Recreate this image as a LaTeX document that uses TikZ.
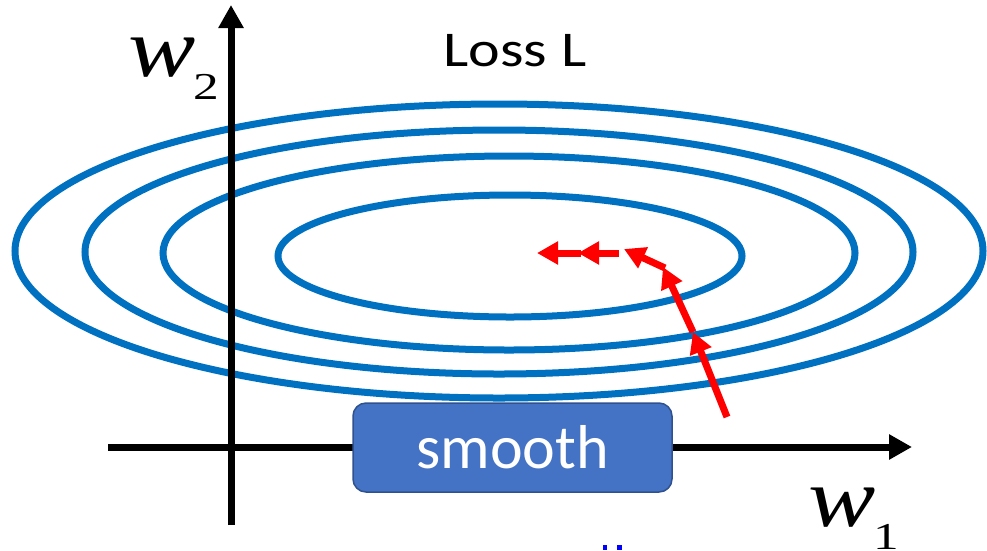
\documentclass[tikz,border=0pt]{standalone}
\usepackage{fontspec}
\setmainfont{Carlito}
\newfontfamily\wfont{Liberation Serif}[ItalicFont={Liberation Serif Italic}]
\usetikzlibrary{arrows.meta}
\definecolor{contourblue}{HTML}{0070C0}
\definecolor{boxblue}{HTML}{4472C4}
\definecolor{boxedge}{HTML}{2F528F}
\definecolor{gdred}{HTML}{FF0000}
\definecolor{dotblue}{HTML}{0000FF}
\newcommand{\axisvar}[1]{{\fontsize{84}{84}\wfont\itshape\scalebox{1.2}[1]{w}}\hspace{-2pt}\raisebox{-23pt}{\fontsize{38}{38}\wfont\upshape\scalebox{1.35}[1]{#1}}}
\begin{document}
\begin{tikzpicture}[x=1pt,y=-1pt,
  contour/.style={draw=contourblue, line width=7pt},
  axisline/.style={draw=black, line width=7pt, -{Triangle[length=23pt,width=24pt]}},
  gdstep/.style={draw=gdred, line width=7pt, -{Triangle[length=21pt,width=22pt]}},
  smoothbox/.style={draw=boxedge, line width=1.5pt, fill=boxblue, rounded corners=13pt,
    minimum width=319pt, minimum height=89pt, inner sep=0pt, text=white,
    font=\fontsize{62}{62}\selectfont},
  losslabel/.style={font=\fontsize{50}{50}\selectfont, inner sep=0pt},
  axislabel/.style={anchor=base west, inner sep=0pt}
  ]
\useasboundingbox (0,0) rectangle (987,550);
% contours
\draw[contour] (499,251) ellipse [x radius=484, y radius=147];
\draw[contour] (499,252) ellipse [x radius=414, y radius=122];
\draw[contour] (509,253) ellipse [x radius=346, y radius=97];
\draw[contour] (510,256) ellipse [x radius=232, y radius=61];
% axes
\coordinate (yb) at (231,525);
\coordinate (yt) at (231,5);
\coordinate (xl) at (108,447);
\coordinate (xr) at (912,447);
\draw[axisline] (yb) -- (yt);
\draw[axisline] (xl) -- (xr);
% labels
\node[losslabel] (loss) at (515,51) {\scalebox{1.2}[1]{Loss L}};
\node[axislabel] (w2) at (128,76) {\axisvar{2}};
\node[axislabel] (w1) at (808,526) {\axisvar{1}};
% smooth box
\node[smoothbox] (smooth) at (512.5,447.5) {smooth};
% gradient steps
\coordinate (p0) at (727,417);
\coordinate (p1) at (693,332);
\coordinate (p2) at (663,267);
\coordinate (p3a) at (665,268);
\coordinate (p3) at (624,249);
\coordinate (p4a) at (619,253);
\coordinate (p4) at (578,253);
\coordinate (p5a) at (581,253);
\coordinate (p5) at (537,253);
\draw[gdstep] (p0) -- (p1);
\draw[gdstep] (p1) -- (p2);
\draw[gdstep] (p3a) -- (p3);
\draw[gdstep] (p4a) -- (p4);
\draw[gdstep] (p5a) -- (p5);
% partial marks at bottom edge
\fill[dotblue] (603,545) rectangle (607,550);
\fill[dotblue] (617,545) rectangle (622,550);
\end{tikzpicture}
\end{document}
